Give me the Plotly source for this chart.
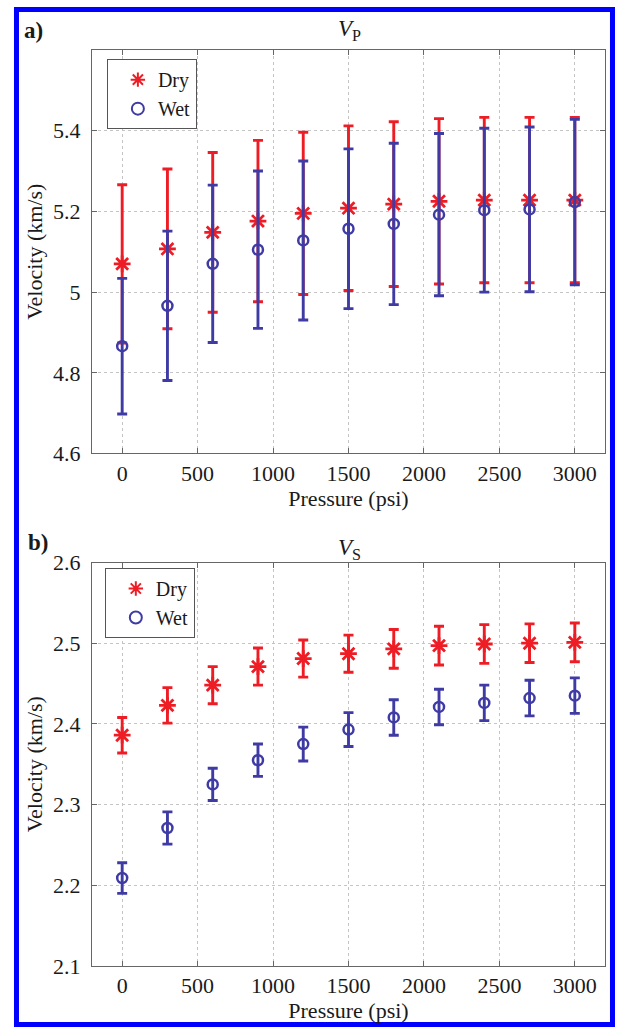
import plotly.graph_objects as go
from plotly.subplots import make_subplots

# Confining pressure steps (psi)
pressure = [0, 300, 600, 900, 1200, 1500, 1800, 2100, 2400, 2700, 3000]

# P-wave velocity (km/s) and one-sided uncertainty
vp_dry = [5.070, 5.107, 5.148, 5.176, 5.195, 5.208, 5.218, 5.225, 5.228, 5.228, 5.228]
vp_dry_err = [0.196, 0.198, 0.198, 0.200, 0.201, 0.204, 0.204, 0.205, 0.205, 0.205, 0.205]
vp_wet = [4.866, 4.966, 5.070, 5.105, 5.128, 5.157, 5.169, 5.192, 5.203, 5.205, 5.223]
vp_wet_err = [0.168, 0.185, 0.195, 0.195, 0.197, 0.198, 0.200, 0.201, 0.203, 0.204, 0.205]

# S-wave velocity (km/s) and one-sided uncertainty
vs_dry = [2.386, 2.423, 2.448, 2.471, 2.481, 2.487, 2.493, 2.497, 2.499, 2.500, 2.501]
vs_dry_err = [0.022, 0.022, 0.023, 0.023, 0.023, 0.023, 0.024, 0.024, 0.024, 0.024, 0.024]
vs_wet = [2.209, 2.271, 2.325, 2.355, 2.375, 2.393, 2.408, 2.421, 2.426, 2.432, 2.435]
vs_wet_err = [0.019, 0.020, 0.020, 0.020, 0.021, 0.021, 0.022, 0.022, 0.022, 0.022, 0.022]

# Tick positions and labels
x_ticks = [0, 500, 1000, 1500, 2000, 2500, 3000]
vp_ticks = [4.6, 4.8, 5.0, 5.2, 5.4]
vp_tick_text = ["4.6", "4.8", "5", "5.2", "5.4"]
vs_ticks = [2.1, 2.2, 2.3, 2.4, 2.5, 2.6]
vs_tick_text = ["2.1", "2.2", "2.3", "2.4", "2.5", "2.6"]

RED = "#ee1c24"
BLUE = "#3f3ba4"
FONT = "Times New Roman"
TXT = "#1a1a1a"

fig = make_subplots(rows=2, cols=1, vertical_spacing=0.119)


def add_pair(row, dry, dry_err, wet, wet_err, legend):
    fig.add_trace(go.Scatter(
        x=pressure, y=dry, mode="markers", name="Dry", legend=legend,
        marker=dict(symbol="asterisk-open", size=14, color=RED,
                    line=dict(color=RED, width=2.8)),
        error_y=dict(type="data", array=dry_err, visible=True,
                     color=RED, thickness=2.9, width=5),
    ), row=row, col=1)
    fig.add_trace(go.Scatter(
        x=pressure, y=wet, mode="markers", name="Wet", legend=legend,
        marker=dict(symbol="circle-open", size=10, color=BLUE,
                    line=dict(color=BLUE, width=2.5)),
        error_y=dict(type="data", array=wet_err, visible=True,
                     color=BLUE, thickness=2.9, width=5),
    ), row=row, col=1)


add_pair(1, vp_dry, vp_dry_err, vp_wet, vp_wet_err, "legend")
add_pair(2, vs_dry, vs_dry_err, vs_wet, vs_wet_err, "legend2")

axis_common = dict(
    showline=True, linecolor="#666666", linewidth=1, mirror="ticks",
    ticks="inside", ticklen=5, tickcolor="#666666",
    showgrid=True, gridcolor="#c4c4c4", griddash="dot", gridwidth=1,
    zeroline=False, tickfont=dict(family=FONT, size=22, color=TXT),
)

for r in (1, 2):
    fig.update_xaxes(
        range=[-200, 3200], tickvals=x_ticks,
        title=dict(text="Pressure (psi)", font=dict(family=FONT, size=22, color=TXT),
                   standoff=2),
        **axis_common, row=r, col=1)

fig.update_yaxes(range=[4.6, 5.6], tickvals=vp_ticks, ticktext=vp_tick_text,
                 title=dict(text="Velocity (km/s)", font=dict(family=FONT, size=22, color=TXT),
                            standoff=4),
                 ticklabelstandoff=6, **axis_common, row=1, col=1)
fig.update_yaxes(range=[2.1, 2.6], tickvals=vs_ticks, ticktext=vs_tick_text,
                 title=dict(text="Velocity (km/s)", font=dict(family=FONT, size=22, color=TXT),
                            standoff=4),
                 ticklabelstandoff=6, **axis_common, row=2, col=1)

legend_style = dict(
    font=dict(family=FONT, size=20, color=TXT),
    bgcolor="white", bordercolor="#555555", borderwidth=1,
    xanchor="left", yanchor="top", tracegroupgap=0,
    itemsizing="constant", indentation=10,
    entrywidth=58, entrywidthmode="pixels",
)

fig.update_layout(
    template="none",
    width=617, height=1027,
    margin=dict(l=92, r=12, t=50, b=61),
    paper_bgcolor="white", plot_bgcolor="white",
    font=dict(family=FONT, color=TXT),
    showlegend=True,
    legend=dict(x=0.029, y=0.990, **legend_style),
    legend2=dict(x=0.025, y=0.4345, **legend_style),
    annotations=[
        dict(text="<b>a)</b>", x=-0.1365, y=1.0218, xref="paper", yref="paper",
             xanchor="left", yanchor="middle", showarrow=False,
             font=dict(family=FONT, size=23, color=TXT)),
        dict(text="<b>b)</b>", x=-0.1287, y=0.4618, xref="paper", yref="paper",
             xanchor="left", yanchor="middle", showarrow=False,
             font=dict(family=FONT, size=23, color=TXT)),
        dict(text="<i>V</i><sub>P</sub>", x=0.501, y=1.0215, xref="paper", yref="paper",
             xanchor="center", yanchor="middle", showarrow=False,
             font=dict(family=FONT, size=23, color=TXT)),
        dict(text="<i>V</i><sub>S</sub>", x=0.501, y=0.4555, xref="paper", yref="paper",
             xanchor="center", yanchor="middle", showarrow=False,
             font=dict(family=FONT, size=23, color=TXT)),
    ],
    shapes=[
        dict(type="rect", xref="paper", yref="paper",
             x0=-0.1472, x1=1.0146, y0=-0.0639, y1=1.0442,
             line=dict(color="#0000ff", width=5), fillcolor="rgba(0,0,0,0)",
             layer="above"),
    ],
)

fig.write_html("out.html")
